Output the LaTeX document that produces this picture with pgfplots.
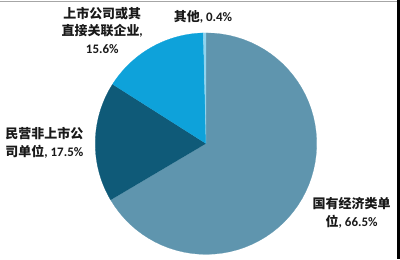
\documentclass[border=0pt]{standalone}
\usepackage{pgfplots}
\pgfplotsset{compat=1.18}
\usepackage{fontspec}
\setmainfont{Carlito}
\newfontfamily\cjk{Noto Sans CJK SC}

\definecolor{stateC}{HTML}{5F95AE}
\definecolor{privC}{HTML}{0F5A78}
\definecolor{listC}{HTML}{0EA2DA}
\definecolor{otherC}{HTML}{8FD3EE}

% One pie slice: #1 = share before it (percent), #2 = its share (percent), #3 = colour.
% Slices run clockwise from twelve o'clock; centre (206,116), radius 111.
\newcommand\pieslice[3]{%
  \pgfmathsetmacro\sa{90-3.6*#1}%
  \pgfmathsetmacro\ea{90-3.6*(#1+#2)}%
  \edef\doslice{\noexpand\addplot[fill=#3, draw=#3, line width=0.2bp,
      domain=0:61, samples=62, variable=\noexpand\t]
    ({206+111*(\noexpand\t<60.5)*cos(\sa+(\ea-\sa)*min(\noexpand\t,60)/60)},
     {116+111*(\noexpand\t<60.5)*sin(\sa+(\ea-\sa)*min(\noexpand\t,60)/60)});}%
  \doslice
}

\begin{document}
\begin{tikzpicture}
\begin{axis}[
  scale only axis, width=400bp, height=260bp,
  xmin=0, xmax=400, ymin=0, ymax=260,
  hide axis, clip=false,
]
\path (axis cs:0,0) rectangle (axis cs:400,260);

\pieslice{0}{66.5}{stateC}
\pieslice{66.5}{17.5}{privC}
\pieslice{84.0}{15.6}{listC}
\pieslice{99.6}{0.4}{otherC}

\tikzset{lbl/.style={align=center, text=black!90,
  font=\bfseries\fontsize{13bp}{17.5bp}\selectfont, inner sep=0pt}}
\node[lbl] at (axis cs:102,229.5) {{\cjk 上市公司或其}\\{\cjk 直接关联企业}, \\15.6\%};
\node[lbl] at (axis cs:203,243) {{\cjk 其他}, 0.4\%};
\node[lbl] at (axis cs:44,117) {{\cjk 民营非上市公}\\{\cjk 司单位}, 17.5\%};
\node[lbl] at (axis cs:352,46.5) {{\cjk 国有经济类单}\\{\cjk 位}, 66.5\%};

% frame edges
\draw[gray!70, line width=1bp] (axis cs:0,258.5) -- (axis cs:400,258.5);
\fill[black] (axis cs:397.5,0) rectangle (axis cs:400,260);
\end{axis}
\end{tikzpicture}
\end{document}
